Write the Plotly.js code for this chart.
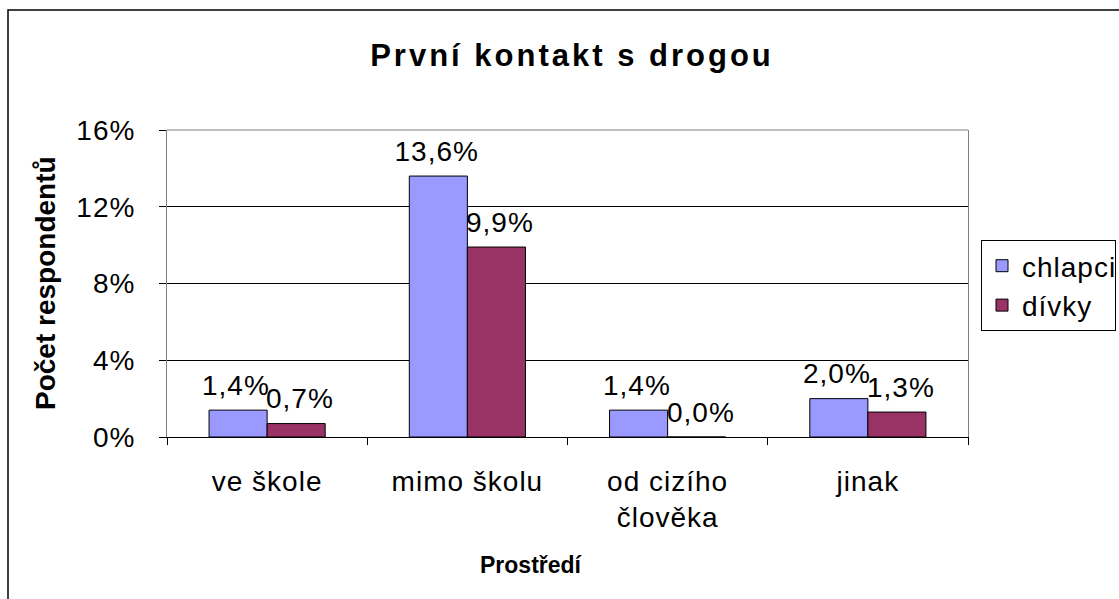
<!DOCTYPE html>
<html>
<head>
<meta charset="utf-8">
<script src="https://cdn.plot.ly/plotly-3.0.1.min.js"></script>
<style>
html,body{margin:0;padding:0;background:#fff;}
#chart{width:1119px;height:599px;}
#chart .gtitle{letter-spacing:3px;}
#chart .xtick text, #chart .ytick text, #chart .legendtext, #chart .lbl .annotation-text{letter-spacing:1px;}
</style>
</head>
<body>
<div id="chart"></div>
<script>
const categories = ["ve škole", "mimo školu", "od cizího<br>člověka", "jinak"];
const seriesNames = ["chlapci", "dívky"];
const chlapci = [0.014, 0.136, 0.014, 0.020];
const divky = [0.007, 0.099, 0.000, 0.013];
const yTicks = [0, 0.04, 0.08, 0.12, 0.16];
const yTickLabels = ["0%", "4%", "8%", "12%", "16%"];

const FONT = "Liberation Sans, Arial, sans-serif";
const W = 1119, H = 599;
const L = 167, R = 968, T = 130, B = 437;
const px = v => (v - L) / (R - L);
const py = v => (B - v) / (B - T);

const colors = ["#9999FF", "#993366"];
const allSeries = [chlapci, divky];

const traces = allSeries.map((vals, i) => ({
  type: "bar",
  name: seriesNames[i],
  x: categories,
  y: vals,
  marker: {color: colors[i], line: {color: "#000", width: 1}},
  hoverinfo: "skip"
}));

const fmt = v => (v * 100).toFixed(1).replace(".", ",") + "%";
const labelAnns = [];
allSeries.forEach((vals, i) => {
  vals.forEach((v, j) => {
    labelAnns.push({
      x: categories[j], y: v, xref: "x", yref: "y",
      text: fmt(v), showarrow: false,
      xshift: i === 0 ? -31 : 33, yshift: 25,
      yanchor: "middle", xanchor: "center",
      font: {family: FONT, size: 28, color: "#000"}
    });
  });
});

const layout = {
  width: W, height: H,
  margin: {l: L, r: W - R, t: T, b: H - B, pad: 0, autoexpand: false},
  paper_bgcolor: "#fff", plot_bgcolor: "#fff",
  separators: ", ",
  font: {family: FONT, size: 28, color: "#000"},
  title: {
    text: "<b>První kontakt s drogou</b>",
    font: {family: FONT, size: 31, color: "#000"},
    x: 572 / W, xref: "container", xanchor: "center",
    y: 1 - 55 / H, yref: "container", yanchor: "middle"
  },
  barmode: "group",
  bargap: 0.42,
  bargroupgap: 0,
  showlegend: true,
  legend: {
    x: px(981), y: py(240), xanchor: "left", yanchor: "top",
    bgcolor: "#fff", bordercolor: "#000", borderwidth: 1,
    font: {family: FONT, size: 28, color: "#000"},
    itemwidth: 30, tracegroupgap: 0
  },
  xaxis: {
    type: "category",
    showline: true, linecolor: "#000", linewidth: 1,
    ticks: "outside", tickson: "boundaries", ticklen: 7, tickcolor: "#000",
    tickfont: {family: FONT, size: 28, color: "#000"},
    ticklabelstandoff: 19,
    showgrid: false, zeroline: false, fixedrange: true, automargin: false
  },
  yaxis: {
    range: [0, 0.16],
    tickvals: yTicks, ticktext: yTickLabels,
    showline: true, linecolor: "#808080", linewidth: 1, mirror: true,
    ticks: "outside", ticklen: 7, tickcolor: "#000",
    tickfont: {family: FONT, size: 28, color: "#000"},
    ticklabelstandoff: 18,
    showgrid: true, gridcolor: "#000", gridwidth: 1,
    zeroline: false, fixedrange: true, automargin: false
  },
  annotations: labelAnns.concat([
    {
      text: "<b>Prostředí</b>", xref: "paper", yref: "paper",
      x: px(531), y: py(565), showarrow: false,
      xanchor: "center", yanchor: "middle",
      font: {family: FONT, size: 23, color: "#000"}
    },
    {
      text: "<b>Počet respondentů</b>", xref: "paper", yref: "paper",
      x: px(45), y: py(283), showarrow: false, textangle: -90,
      xanchor: "center", yanchor: "middle",
      font: {family: FONT, size: 28, color: "#000"}
    }
  ]),
  shapes: [
    {type: "line", xref: "paper", yref: "paper", x0: 0, x1: 1, y0: 1, y1: 1,
     line: {color: "#808080", width: 1}, layer: "above"},
    {type: "rect", xref: "paper", yref: "paper",
     x0: px(8), x1: px(1200), y0: py(10), y1: py(680),
     line: {color: "#000", width: 1.5}, fillcolor: "rgba(0,0,0,0)", layer: "above"}
  ]
};

Plotly.newPlot("chart", traces, layout, {displayModeBar: false, staticPlot: true}).then(gd => {
  const anns = gd.querySelectorAll(".annotation");
  anns.forEach((a, k) => { if (k < labelAnns.length) a.classList.add("lbl"); });
});
</script>
</body>
</html>
